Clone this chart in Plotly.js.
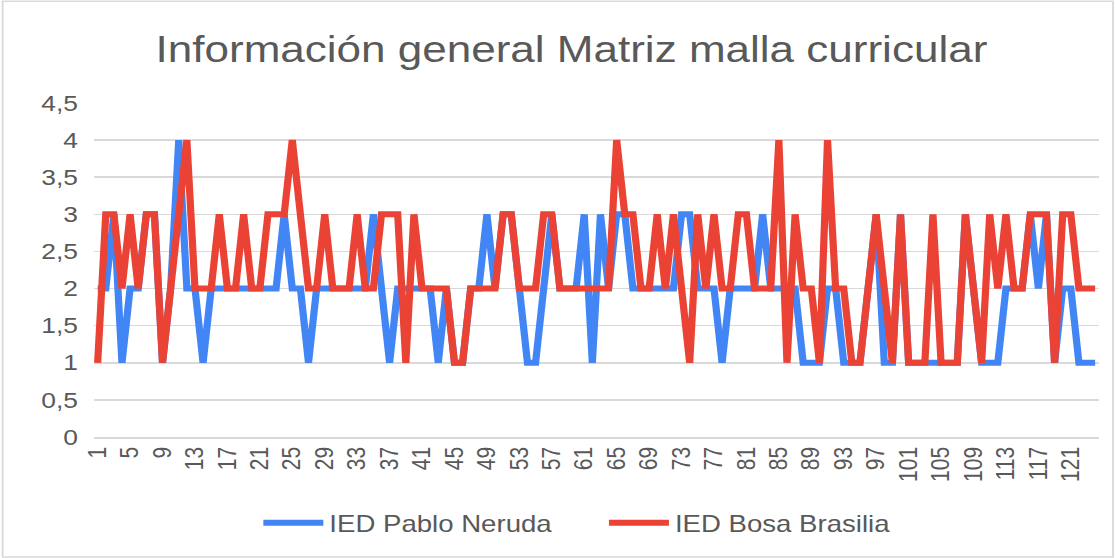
<!DOCTYPE html>
<html>
<head>
<meta charset="utf-8">
<script src="https://cdn.plot.ly/plotly-3.0.1.min.js"></script>
<style>
html,body{margin:0;padding:0;background:#fff;overflow:hidden;}
#chart{width:929px;height:558px;transform:scaleX(1.2);transform-origin:0 0;}
</style>
</head>
<body>
<div id="chart"></div>
<script>
var categories = [];
for (var k = 1; k <= 124; k++) categories.push(k);

var pabloNeruda = [
  2,2,3,1,2,2,3,3,1,2, 4,2,2,1,2,2,2,2,2,2,
  2,2,2,3,2,2,1,2,2,2, 2,2,2,2,3,2,1,2,2,2,
  2,2,1,2,1,1,2,2,3,2, 3,3,2,1,1,2,3,2,2,2,
  3,1,3,2,3,3,2,2,2,2, 2,2,3,3,2,2,2,1,2,2,
  2,2,3,2,2,2,2,1,1,1, 2,2,1,1,1,2,3,1,1,3,
  1,1,1,1,1,1,1,3,2,1, 1,1,2,2,2,3,2,3,1,2,
  2,1,1,1
];
var bosaBrasilia = [
  1,3,3,2,3,2,3,3,1,2, 3,4,2,2,2,3,2,2,3,2,
  2,3,3,3,4,3,2,2,3,2, 2,2,3,2,2,3,3,3,1,3,
  2,2,2,2,1,1,2,2,2,2, 3,3,2,2,2,3,3,2,2,2,
  2,2,2,2,4,3,3,2,2,3, 2,3,2,1,3,2,3,2,2,3,
  3,2,2,2,4,1,3,2,2,1, 4,2,2,1,1,2,3,2,1,3,
  1,1,1,3,1,1,1,3,2,1, 3,2,3,2,2,3,3,3,1,3,
  3,2,2,2
];
var xTickVals = [];
for (var t = 1; t <= 121; t += 4) xTickVals.push(t);
var xTickText = xTickVals.map(String);
var yTickVals = [0,0.5,1,1.5,2,2.5,3,3.5,4,4.5];

var seriesNames = ['IED Pablo Neruda', 'IED Bosa Brasilia'];
var seriesColors = ['#4285F4', '#EA4335'];

var traces = [
  {x: categories, y: pabloNeruda, type: 'scatter', mode: 'lines', name: seriesNames[0],
   line: {color: seriesColors[0], width: 6}},
  {x: categories, y: bosaBrasilia, type: 'scatter', mode: 'lines', name: seriesNames[1],
   line: {color: seriesColors[1], width: 6}}
];

var textColor = '#595959';
var layout = {
  width: 929, height: 558,
  separators: ',.',
  paper_bgcolor: '#ffffff', plot_bgcolor: '#ffffff',
  margin: {l: 77.5, r: 12.5, t: 103, b: 121},
  font: {family: 'Liberation Sans, Arial, sans-serif', color: textColor},
  title: {text: 'Información general Matriz malla curricular',
          font: {size: 36.7, color: textColor, family: 'Liberation Sans, Arial, sans-serif'},
          x: 0.5126, xanchor: 'center', xref: 'container', y: 0.912, yanchor: 'middle', yref: 'container'},
  xaxis: {range: [0.5, 124.5], tickmode: 'array', tickvals: xTickVals, ticktext: xTickText,
          tickangle: -90, tickfont: {size: 21, color: textColor}, showgrid: false,
          zeroline: false, showline: true, linecolor: '#d9d9d9', linewidth: 1.5, ticks: ''},
  yaxis: {range: [0, 4.5], tickmode: 'array', tickvals: yTickVals, tickformat: '.1~f',
          tickfont: {size: 22, color: textColor}, showgrid: true, gridcolor: '#d9d9d9',
          gridwidth: 1.5, zeroline: false, showline: false, ticks: '', ticklabelstandoff: 12},
  showlegend: true,
  legend: {orientation: 'h', x: 0.5065, xanchor: 'center', y: -0.257, yanchor: 'middle',
           font: {size: 23, color: textColor}, itemwidth: 50, traceorder: 'normal',
           entrywidth: 223, entrywidthmode: 'pixels'},
  shapes: [{type: 'rect', xref: 'paper', yref: 'paper',
            x0: -0.0905, x1: 1.0137, y0: -0.3593, y1: 1.305,
            line: {color: '#d9d9d9', width: 1.5}, fillcolor: 'rgba(0,0,0,0)', layer: 'below'}]
};

Plotly.newPlot('chart', traces, layout, {displayModeBar: false, staticPlot: true});
</script>
</body>
</html>
